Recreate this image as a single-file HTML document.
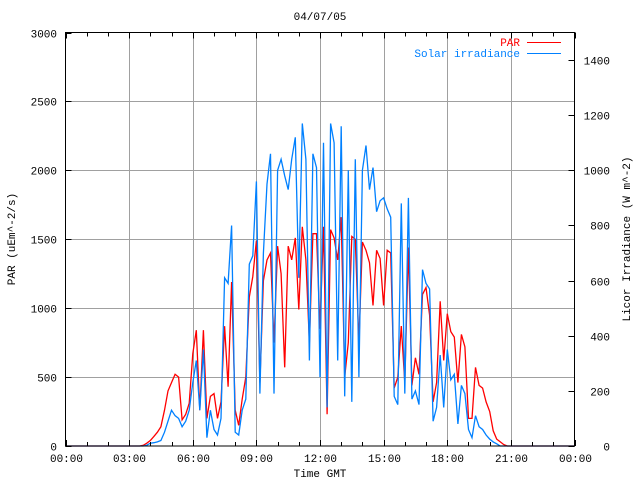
<!DOCTYPE html>
<html><head><meta charset="utf-8"><style>
html,body{margin:0;padding:0;background:#fff}
svg{display:block;font-family:"Liberation Mono","DejaVu Sans Mono",monospace;font-size:11px}
</style></head><body>
<svg id="chart" width="640" height="480" xmlns="http://www.w3.org/2000/svg">
<text x="320" y="20" text-anchor="middle">04/07/05</text>
<g id="grid"></g>
<g id="series"></g>
<rect x="65.5" y="32.5" width="509" height="413.5" fill="none" stroke="#000" stroke-width="1"/>
<g id="axes"></g>
<text x="320" y="477" text-anchor="middle">Time GMT</text>
<text transform="translate(15,239) rotate(-90)" text-anchor="middle">PAR (uEm^-2/s)</text>
<text transform="translate(630,239) rotate(-90)" text-anchor="middle">Licor Irradiance (W m^-2)</text>
<g>
<text x="520" y="46" text-anchor="end" fill="#ff0000">PAR</text>
<line x1="527" y1="42.5" x2="561" y2="42.5" stroke="#ff0000"/>
<text x="520" y="57" text-anchor="end" fill="#0080ff">Solar irradiance</text>
<line x1="527" y1="53.5" x2="561" y2="53.5" stroke="#0080ff"/>
</g>
</svg>
<script>
const startHour = 3.5;
const stepHour = 1/6;
const parValues = [0,5,20,40,70,100,140,260,400,460,520,500,190,230,310,
670,840,260,840,200,360,
380,200,320,870,430,1190,
260,150,340,500,1080,1230,
1490,460,1200,1350,1400,750,
1450,1250,570,1450,1350,1510,
990,1590,1350,750,1540,1540,
850,1590,230,1570,1510,1350,
1660,500,750,1520,1500,750,
1480,1420,1330,1020,1420,1360,
1020,1420,1400,420,500,870,
460,1440,440,640,520,1100,
1150,950,320,460,1050,620,
960,830,790,460,810,720,
200,200,570,440,420,320,
250,110,50,30,10,0];
const solarValues = [0,0,3,10,12,15,20,50,90,130,110,100,70,90,130,
230,310,130,350,30,130,
60,40,100,610,590,800,
50,40,130,170,660,690,
960,190,700,950,1060,190,
1000,1040,980,930,1040,1120,
610,1170,1040,310,1060,1010,
250,1100,140,1170,1100,310,
1160,180,1000,160,1040,250,
1000,1090,930,1010,850,890,
900,860,830,180,150,880,
190,900,170,200,150,640,
590,570,90,140,330,140,
350,240,260,80,220,190,
60,30,110,70,60,40,
25,15,8,0,0,0];
const xTickLabels = ["00:00","03:00","06:00","09:00","12:00","15:00","18:00","21:00","00:00"];
const leftTickLabels = ["0","500","1000","1500","2000","2500","3000"];
const rightTickLabels = ["0","200","400","600","800","1000","1200","1400"];

const L=65.5,R=574.5,T=32.5,B=446;
const xs=h=>L+(R-L)*h/24;
const yl=v=>B-(B-T)*v/3000;
const yr=v=>B-(B-T)*v/1500;
const NS="http://www.w3.org/2000/svg";
function mk(tag,attrs,parent){const e=document.createElementNS(NS,tag);for(const k in attrs)e.setAttribute(k,attrs[k]);parent.appendChild(e);return e;}
const grid=document.getElementById('grid'),axes=document.getElementById('axes'),series=document.getElementById('series');
xTickLabels.forEach((lab,i)=>{
  const x=Math.round(xs(i*3))+0.5;
  if(i>0&&i<8){const g=mk('line',{x1:x,y1:T,x2:x,y2:B,stroke:'#a0a0a0'},grid);
  
  }
  const t=mk('text',{x:x,y:462,'text-anchor':'middle'},axes);t.textContent=lab;
  
  
});
for(let h=0;h<=24;h++){const x=Math.round(xs(h))+0.5;const len=h%3===0?6:4;
  const tk=mk('line',{x1:x,y1:B,x2:x,y2:B-len,stroke:'#000'},axes);
  
  
  const tk2=mk('line',{x1:x,y1:T,x2:x,y2:T+len,stroke:'#000'},axes);
  
  }
leftTickLabels.forEach((lab,i)=>{
  const v=+lab;const y=Math.round(yl(v))+0.5;
  if(i>0&&i<6){const g=mk('line',{x1:L,y1:y,x2:R,y2:y,stroke:'#a0a0a0'},grid);
  
  }
  const tk=mk('line',{x1:L,y1:y,x2:L+6,y2:y,stroke:'#000'},axes);
  
  
  const t=mk('text',{x:57,y:y+4,'text-anchor':'end'},axes);t.textContent=lab;
  
  
});
rightTickLabels.forEach(lab=>{
  const y=Math.round(yr(+lab))+0.5;
  const tk=mk('line',{x1:R-6,y1:y,x2:R,y2:y,stroke:'#000'},axes);
  
  
  const t=mk('text',{x:610,y:y+4,'text-anchor':'end'},axes);t.textContent=lab;
  
  
});
function pts(vals,yf){const p=[[xs(0),yf(0)]];vals.forEach((v,i)=>p.push([xs(startHour+i*stepHour),yf(v)]));p.push([xs(24),yf(0)]);return p.map(q=>q[0].toFixed(1)+','+q[1].toFixed(1)).join(' ');}
const par=mk('polyline',{points:pts(parValues,yl),fill:'none',stroke:'#ff0000','stroke-width':1.3},series);


const sol=mk('polyline',{points:pts(solarValues,yr),fill:'none',stroke:'#0080ff','stroke-width':1.3},series);


</script>
</body></html>
